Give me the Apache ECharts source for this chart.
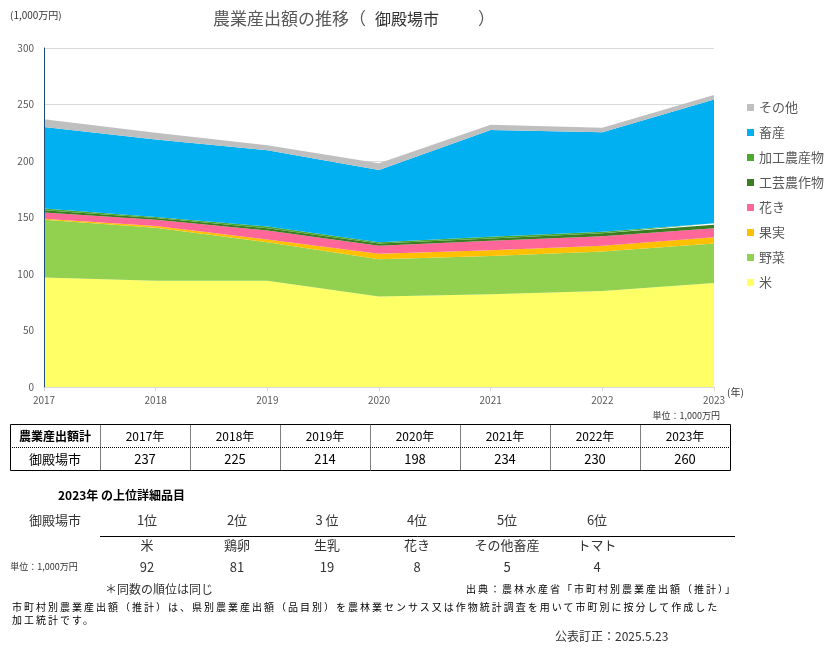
<!DOCTYPE html>
<html>
<head>
<meta charset="utf-8">
<script src="https://cdn.jsdelivr.net/npm/echarts@6/dist/echarts.min.js"></script>
<style>
  html, body { margin: 0; padding: 0; background: #fff; }
  #wrap { position: relative; width: 832px; height: 650px; }
  #chart { width: 832px; height: 650px; }
  .note {
    position: absolute;
    font-family: "Noto Sans CJK JP", "Noto Sans", sans-serif;
    font-size: 10px;
    line-height: 13px;
    color: #000;
    letter-spacing: 2px;
    white-space: nowrap;
  }
</style>
</head>
<body>
<div id="wrap">
  <div id="chart"></div>
  <div class="note" id="source" style="right: 95px; top: 582px;"></div>
  <div class="note" id="desc" style="left: 12px; top: 600px;"></div>
</div>
<script>
// データ（単位：1,000万円）
const years = ['2017', '2018', '2019', '2020', '2021', '2022', '2023'];
const kome = [97, 94, 94, 80, 82, 85, 92];
const yasai = [51, 47, 34, 33, 34, 35, 35];
const kajitsu = [1, 1.5, 2.5, 5, 5, 5, 5.5];
const kaki = [5.5, 5.5, 8, 7, 8.5, 8.5, 8];
const kougei = [2, 1.5, 2, 2, 2, 2.5, 3];
const kakou = [1.5, 1, 1.5, 1, 1.5, 1.5, 1.5];
const chikusan = [72, 68.5, 67.5, 64, 94.5, 88, 109.5];
const sonota = [7, 6, 4.5, 6, 4.5, 4, 4];

// 表のデータ
const totals = [237, 225, 214, 198, 234, 230, 260];
const rankLabels = ['1位', '2位', '3 位', '4位', '5位', '6位'];
const topItems = ['米', '鶏卵', '生乳', '花き', 'その他畜産', 'トマト'];
const topValues = [92, 81, 19, 8, 5, 4];

const cityName = '御殿場市';
const font = '"Noto Sans CJK JP", "Noto Sans", sans-serif';

// 注記（HTMLで字間をあける）
document.getElementById('source').textContent = '出典：農林水産省「市町村別農業産出額（推計）」';
document.getElementById('desc').innerHTML =
  '市町村別農業産出額（推計）は、県別農業産出額（品目別）を農林業センサス又は作物統計調査を用いて市町別に按分して作成した<br>加工統計です。';

const chart = echarts.init(document.getElementById('chart'));

// 系列の定義（下から積み上げ）
const seriesDefs = [
  { name: '米', data: kome, color: '#FFFF66' },
  { name: '野菜', data: yasai, color: '#92D050' },
  { name: '果実', data: kajitsu, color: '#FFC000' },
  { name: '花き', data: kaki, color: '#FF6699' },
  { name: '工芸農作物', data: kougei, color: '#3B7D23' },
  { name: '加工農産物', data: kakou, color: '#4EA72E' },
  { name: '畜産', data: chikusan, color: '#00B0F0' },
  { name: 'その他', data: sonota, color: '#BFBFBF' }
];

// テキスト用ヘルパー
const txt = (text, x, y, opt = {}) => ({
  type: 'text',
  silent: true,
  style: {
    text: text,
    x: x,
    y: y,
    fill: opt.fill || '#000',
    font: (opt.weight || 'normal') + ' ' + (opt.size || 12) + 'px ' + font,
    align: opt.align || 'center',
    verticalAlign: 'middle'
  }
});
const line = (x1, y1, x2, y2, dash) => ({
  type: 'line',
  silent: true,
  shape: { x1: x1, y1: y1, x2: x2, y2: y2 },
  style: { stroke: '#000', lineWidth: 1, lineDash: dash ? [1, 1] : null }
});

const graphics = [];

// タイトル
graphics.push(txt('農業産出額の推移（', 213, 19, { size: 17, fill: '#595959', align: 'left' }));
graphics.push(txt(cityName, 375, 19, { size: 16, fill: '#333', align: 'left' }));
graphics.push(txt('）', 478, 19, { size: 17, fill: '#595959', align: 'left' }));

// 表の描画
const tLeft = 10, tTop = 424.5, rowH = 23, firstW = 90, colW = 90;
const tRight = tLeft + firstW + colW * years.length;
graphics.push({
  type: 'rect',
  silent: true,
  shape: { x: tLeft + 0.5, y: tTop, width: tRight - tLeft, height: rowH * 2 },
  style: { fill: 'none', stroke: '#000', lineWidth: 1 }
});
graphics.push(line(tLeft, tTop + rowH, tRight, tTop + rowH, true));
for (let i = 0; i < years.length; i++) {
  const x = tLeft + firstW + colW * i + 0.5;
  graphics.push(line(x, tTop, x, tTop + rowH * 2, true));
}
graphics.push(txt('農業産出額計', tLeft + firstW / 2, tTop + rowH / 2, { weight: 'bold' }));
graphics.push(txt(cityName, tLeft + firstW / 2, tTop + rowH * 1.5, { size: 13 }));
years.forEach((y, i) => {
  const cx = tLeft + firstW + colW * i + colW / 2;
  graphics.push(txt(y + '年', cx, tTop + rowH / 2));
  graphics.push(txt(String(totals[i]), cx, tTop + rowH * 1.5, { size: 13 }));
});

// 上位品目
graphics.push(txt('2023年 の上位詳細品目', 58, 495, { weight: 'bold', align: 'left' }));
graphics.push(txt(cityName, 55, 520, { size: 13, fill: '#333' }));
graphics.push(line(100, 536.5, 735, 536.5, false));
graphics.push(txt('単位：1,000万円', 44, 567, { size: 9, fill: '#333' }));
rankLabels.forEach((r, i) => {
  const cx = tLeft + firstW + colW * i + colW / 2 + 2;
  graphics.push(txt(r, cx, 520, { size: 13, fill: '#333' }));
  graphics.push(txt(topItems[i], cx, 545, { size: 13, fill: '#333' }));
  graphics.push(txt(String(topValues[i]), cx, 567, { size: 13, fill: '#333' }));
});

// 注記
graphics.push(txt('＊同数の順位は同じ', 105, 589, { size: 12, fill: '#333', align: 'left' }));
graphics.push(txt('公表訂正：2025.5.23', 555, 636, { size: 12, fill: '#333', align: 'left' }));

// 軸ラベル
graphics.push(txt('(1,000万円)', 10, 15, { size: 10, fill: '#333', align: 'left' }));
graphics.push(txt('(年)', 727, 392, { size: 10, fill: '#333', align: 'left' }));
graphics.push(txt('単位：1,000万円', 720, 416, { size: 9, fill: '#333', align: 'right' }));

chart.setOption({
  animation: false,
  legend: {
    orient: 'vertical',
    left: 742,
    top: 96,
    icon: 'rect',
    itemWidth: 7,
    itemHeight: 7,
    itemGap: 12,
    textStyle: { fontSize: 13, color: '#595959', fontFamily: font },
    data: seriesDefs.map(s => s.name).reverse()
  },
  grid: { left: 44, right: 118, top: 48, bottom: 263 },
  xAxis: {
    type: 'category',
    data: years,
    boundaryGap: false,
    axisLine: { lineStyle: { color: '#D9D9D9' } },
    axisTick: { show: true, length: 4, lineStyle: { color: '#D9D9D9' } },
    axisLabel: { color: '#595959', fontSize: 10, fontFamily: font, margin: 8 }
  },
  yAxis: [
    {
      type: 'value',
      min: 0,
      max: 300,
      interval: 50,
      axisLine: { show: false },
      axisTick: { show: false },
      splitLine: { lineStyle: { color: '#D9D9D9' } },
      axisLabel: { color: '#595959', fontSize: 10, fontFamily: font, margin: 10 }
    },
    {
      // 面の上に描く縦軸の線
      type: 'value',
      position: 'left',
      min: 0,
      max: 300,
      interval: 50,
      z: 10,
      axisLine: { show: true, lineStyle: { color: '#1F4E79', width: 1 } },
      axisTick: { show: false },
      axisLabel: { show: false },
      splitLine: { show: false }
    }
  ],
  series: seriesDefs.map(s => ({
    name: s.name,
    type: 'line',
    stack: 'total',
    yAxisIndex: 0,
    data: s.data,
    symbol: 'none',
    color: s.color,
    lineStyle: { width: 0 },
    areaStyle: { color: s.color, opacity: 1 }
  })),
  graphic: graphics
});
</script>
</body>
</html>
